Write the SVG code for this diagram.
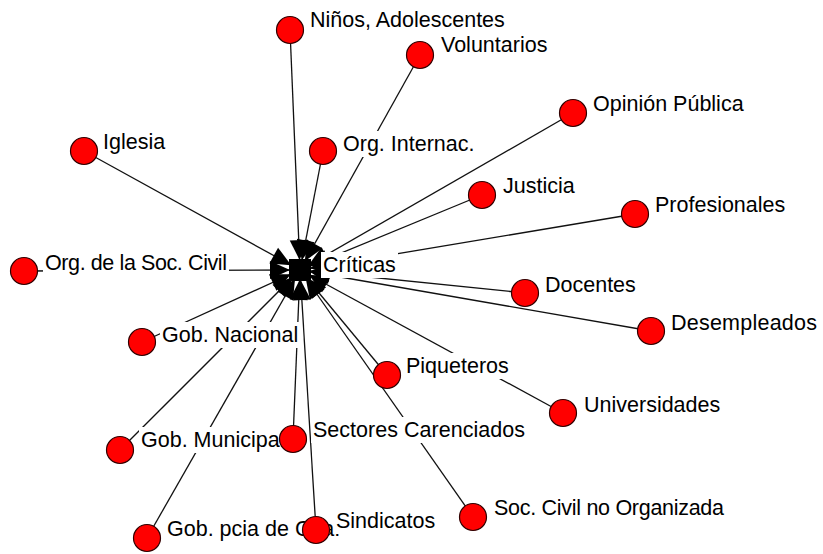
<svg xmlns="http://www.w3.org/2000/svg" width="823" height="554" viewBox="0 0 823 554">
<defs>
<style>
.lbl{font-family:"Liberation Sans",Arial,sans-serif;font-size:21.5px;fill:#000}
.bg{fill:#fff}
.nd{fill:#ff0000;stroke:#300000;stroke-width:1.2}
.ln{stroke:#111;stroke-width:1.3;fill:none;marker-end:url(#arr)}
</style>
<marker id="arr" markerUnits="userSpaceOnUse" markerWidth="32" markerHeight="18" refX="30" refY="9" orient="auto" overflow="visible">
<path d="M0,0 L20,9 L0,18 z" fill="#000"/>
</marker>
</defs>
<rect width="823" height="554" fill="#fff"/>
<g id="connectors">
<line class="ln" x1="290" y1="30" x2="300" y2="270"/>
<line class="ln" x1="420" y1="55" x2="300" y2="270"/>
<line class="ln" x1="573" y1="113" x2="300" y2="270"/>
<line class="ln" x1="84" y1="151" x2="300" y2="270"/>
<line class="ln" x1="323" y1="151" x2="300" y2="270"/>
<line class="ln" x1="482" y1="195" x2="300" y2="270"/>
<line class="ln" x1="635" y1="214" x2="300" y2="270"/>
<line class="ln" x1="24" y1="271" x2="300" y2="270"/>
<line class="ln" x1="525" y1="293" x2="300" y2="270"/>
<line class="ln" x1="651" y1="331" x2="300" y2="270"/>
<line class="ln" x1="142" y1="342" x2="300" y2="270"/>
<line class="ln" x1="387" y1="375" x2="300" y2="270"/>
<line class="ln" x1="563" y1="413" x2="300" y2="270"/>
<line class="ln" x1="120" y1="450" x2="300" y2="270"/>
<line class="ln" x1="293" y1="439" x2="300" y2="270"/>
<line class="ln" x1="316" y1="530" x2="300" y2="270"/>
<line class="ln" x1="147" y1="538" x2="300" y2="270"/>
<line class="ln" x1="473" y1="517" x2="300" y2="270"/>
</g>
<g id="criticas">
<rect x="289" y="259" width="22" height="22" fill="#000"/>
<rect class="bg" x="321" y="252" width="77" height="26"/>
<text class="lbl" x="323" y="272">Críticas</text>
</g>
<g id="ninos">
<rect class="bg" x="308" y="7" width="200" height="26"/>
<text class="lbl" x="310" y="27">Niños, Adolescentes</text>
<circle class="nd" cx="290" cy="30" r="13.5"/>
</g>
<g id="voluntarios">
<rect class="bg" x="439" y="32" width="111" height="26"/>
<text class="lbl" x="441" y="52">Voluntarios</text>
<circle class="nd" cx="420" cy="55" r="13.5"/>
</g>
<g id="opinion-publica">
<rect class="bg" x="591" y="91" width="154" height="26"/>
<text class="lbl" x="593" y="111">Opinión Pública</text>
<circle class="nd" cx="573" cy="113" r="13.5"/>
</g>
<g id="iglesia">
<rect class="bg" x="101" y="129" width="66" height="26"/>
<text class="lbl" x="103" y="149">Iglesia</text>
<circle class="nd" cx="84" cy="151" r="13.5"/>
</g>
<g id="org-internac">
<rect class="bg" x="341" y="131" width="135" height="26"/>
<text class="lbl" x="343" y="151">Org. Internac.</text>
<circle class="nd" cx="323" cy="151" r="13.5"/>
</g>
<g id="justicia">
<rect class="bg" x="501" y="173" width="75" height="26"/>
<text class="lbl" x="503" y="193">Justicia</text>
<circle class="nd" cx="482" cy="195" r="13.5"/>
</g>
<g id="profesionales">
<rect class="bg" x="653" y="192" width="134" height="26"/>
<text class="lbl" x="655" y="212">Profesionales</text>
<circle class="nd" cx="635" cy="214" r="13.5"/>
</g>
<g id="org-soc-civil">
<rect class="bg" x="43" y="250" width="186" height="26"/>
<text class="lbl" x="45" y="270" textLength="182">Org. de la Soc. Civil</text>
<circle class="nd" cx="24" cy="271" r="13.5"/>
</g>
<g id="docentes">
<rect class="bg" x="543" y="272" width="95" height="26"/>
<text class="lbl" x="545" y="292">Docentes</text>
<circle class="nd" cx="525" cy="293" r="13.5"/>
</g>
<g id="desempleados">
<rect class="bg" x="669" y="310" width="150" height="26"/>
<text class="lbl" x="671" y="330" textLength="146">Desempleados</text>
<circle class="nd" cx="651" cy="331" r="13.5"/>
</g>
<g id="gob-nacional">
<rect class="bg" x="160" y="322" width="139" height="26"/>
<text class="lbl" x="162" y="342">Gob. Nacional</text>
<circle class="nd" cx="142" cy="342" r="13.5"/>
</g>
<g id="piqueteros">
<rect class="bg" x="404" y="353" width="107" height="26"/>
<text class="lbl" x="406" y="373">Piqueteros</text>
<circle class="nd" cx="387" cy="375" r="13.5"/>
</g>
<g id="universidades">
<rect class="bg" x="582" y="392" width="140" height="26"/>
<text class="lbl" x="584" y="412">Universidades</text>
<circle class="nd" cx="563" cy="413" r="13.5"/>
</g>
<g id="gob-municipal">
<rect class="bg" x="139" y="427" width="147" height="26"/>
<text class="lbl" x="141" y="447">Gob. Municipal</text>
<circle class="nd" cx="120" cy="450" r="13.5"/>
</g>
<g id="sectores-carenciados">
<rect class="bg" x="311" y="417" width="215" height="26"/>
<text class="lbl" x="313" y="437" textLength="212">Sectores Carenciados</text>
<circle class="nd" cx="293" cy="439" r="13.5"/>
</g>
<g id="gob-pcia">
<rect class="bg" x="165" y="516" width="177" height="26"/>
<text class="lbl" x="167" y="536">Gob. pcia de Cba.</text>
<circle class="nd" cx="147" cy="538" r="13.5"/>
</g>
<g id="sindicatos">
<rect class="bg" x="334" y="508" width="103" height="26"/>
<text class="lbl" x="336" y="528">Sindicatos</text>
<circle class="nd" cx="316" cy="530" r="13.5"/>
</g>
<g id="soc-civil-no-org">
<rect class="bg" x="492" y="495" width="234" height="26"/>
<text class="lbl" x="494" y="515" textLength="230">Soc. Civil no Organizada</text>
<circle class="nd" cx="473" cy="517" r="13.5"/>
</g>
</svg>
